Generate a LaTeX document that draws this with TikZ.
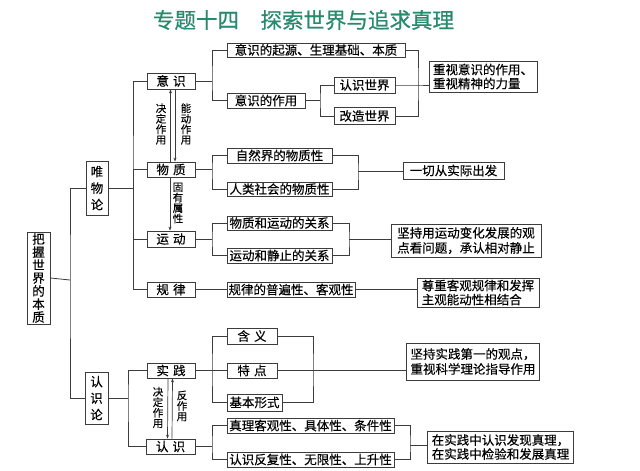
\documentclass[tikz,border=0pt]{standalone}
\usepackage{fontspec}
\newfontfamily\cjk[FakeBold=0.35]{Noto Sans CJK SC}
\newfontfamily\cjktitle[FakeBold=0.6]{Noto Sans CJK SC}
\usetikzlibrary{arrows.meta}
\definecolor{titlegreen}{RGB}{38,138,108}
\definecolor{linegray}{RGB}{60,60,60}
\begin{document}
\begin{tikzpicture}[x=1pt,y=-1pt,
  box/.style={draw=linegray, line width=0.8pt, fill=white, inner sep=0pt,
    font=\cjk\fontsize{12.5}{14}\selectfont, align=center},
  tbox/.style={box, align=left, inner xsep=4pt},
  conn/.style={draw=linegray, line width=0.8pt},
  arr/.style={draw=linegray, line width=0.7pt, -{Stealth[length=4pt,width=3pt]}},
  vlab/.style={font=\cjk\fontsize{10.5}{10.5}\selectfont, inner sep=0pt, align=center}
]
\useasboundingbox (0,0) rectangle (640,471);
\fill[white] (0,0) rectangle (640,471);

% title
\node[font=\cjktitle\fontsize{21.5}{22}\selectfont, text=titlegreen, inner sep=0pt] (title) at (303.5,20) {专题十四　探索世界与追求真理};

% level 0/1
\node[box, minimum width=23, minimum height=92, font=\cjk\fontsize{12.5}{13}\selectfont] (root) at (38.5,278) {把\\握\\世\\界\\的\\本\\质};
\node[box, minimum width=22, minimum height=54, font=\cjk\fontsize{12.5}{16.5}\selectfont] (wwl) at (97,188) {唯\\物\\论};
\node[box, minimum width=23, minimum height=52, font=\cjk\fontsize{12.5}{16.5}\selectfont] (rsl) at (96.5,398) {认\\识\\论};

% level 2
\node[box, minimum width=48, minimum height=16] (yishi) at (171,81) {意\,\,识};
\node[box, minimum width=48, minimum height=15] (wuzhi) at (171,169.5) {物\,\,质};
\node[box, minimum width=48, minimum height=16] (yundong) at (171,239) {运\,\,动};
\node[box, minimum width=48, minimum height=15] (guilv) at (171,289.5) {规\,\,律};
\node[box, minimum width=48, minimum height=15] (shijian) at (171,370.5) {实\,\,践};
\node[box, minimum width=49, minimum height=15] (renshi) at (170.5,446.5) {认\,\,识};

% level 3
\node[box, minimum width=178, minimum height=14] (a1) at (316,50) {意识的起源、生理基础、本质};
\node[box, minimum width=78, minimum height=15] (a2) at (266,100.5) {意识的作用};
\node[box, minimum width=61, minimum height=16] (a3) at (364.5,85) {认识世界};
\node[box, minimum width=61, minimum height=17] (a4) at (364.5,116) {改造世界};
\node[box, minimum width=105, minimum height=15] (b1) at (279.5,155.5) {自然界的物质性};
\node[box, minimum width=105, minimum height=14] (b2) at (279.5,189) {人类社会的物质性};
\node[box, minimum width=105, minimum height=14] (c1) at (279.5,223) {物质和运动的关系};
\node[box, minimum width=105, minimum height=15] (c2) at (279.5,255.5) {运动和静止的关系};
\node[box, minimum width=128, minimum height=15] (d1) at (291,289.5) {规律的普遍性、客观性};
\node[box, minimum width=50, minimum height=16] (e1) at (252,336) {含\,\,义};
\node[box, minimum width=50, minimum height=15] (e2) at (252,370.5) {特\,\,点};
\node[box, minimum width=55, minimum height=17] (e3) at (254.5,402.5) {基本形式};
\node[box, minimum width=167, minimum height=15] (f1) at (310.5,425.5) {真理客观性、具体性、条件性};
\node[box, minimum width=167, minimum height=15] (f2) at (310.5,459.5) {认识反复性、无限性、上升性};

% results
\node[tbox, minimum width=102, minimum height=31] (r1) at (483,76.5) {重视意识的作用、\\重视精神的力量};
\node[box, minimum width=101, minimum height=17] (r2) at (453.5,170.5) {一切从实际出发};
\node[tbox, minimum width=150, minimum height=33, font=\cjk\fontsize{12.5}{15}\selectfont] (r3) at (466,240.5) {坚持用运动变化发展的观\\点看问题，承认相对静止};
\node[tbox, minimum width=122, minimum height=29] (r4) at (478,292.5) {尊重客观规律和发挥\\主观能动性相结合};
\node[tbox, minimum width=132, minimum height=37, font=\cjk\fontsize{12.5}{15}\selectfont] (r5) at (473,361.5) {坚持实践第一的观点，\\重视科学理论指导作用};
\node[tbox, minimum width=145, minimum height=32] (r6) at (500.5,447) {在实践中认识发现真理，\\在实践中检验和发展真理};

% junctions
\coordinate (j0) at (70,280);
\coordinate (j1) at (133,188);
\coordinate (j2) at (128,398);
\coordinate (k1) at (212,81);
\coordinate (k2) at (320,100.5);
\coordinate (k3) at (212,169.5);
\coordinate (k4) at (212,239);
\coordinate (k5) at (212,370.5);
\coordinate (k6) at (212,446.5);
\coordinate (m1) at (418,85);
\coordinate (m2) at (358,171);
\coordinate (m3) at (349,239.5);
\coordinate (m4) at (313,370.5);
\coordinate (m5) at (410,445);

% connectors
\draw[conn] (root.east) -- (j0);
\draw[conn] (wwl.west) -| (j0) |- (rsl.west);
\draw[conn] (wwl.east) -- (j1);
\draw[conn] (yishi.west) -| (j1) |- (guilv.west);
\draw[conn] (j1) |- (wuzhi.west);
\draw[conn] (j1) |- (yundong.west);
\draw[conn] (rsl.east) -- (j2);
\draw[conn] (shijian.west) -| (j2) |- (renshi.west);

\draw[conn] (yishi.east) -- (k1);
\draw[conn] (a1.west) -| (k1) |- (a2.west);
\draw[conn] (a2.east) -- (k2);
\draw[conn] (a3.west) -| (k2) |- (a4.west);
\draw[conn] (a1.east) -| (m1) |- (a4.east);
\draw[conn] (a3.east) -- (m1) -- (r1.west |- m1);

\draw[conn] (wuzhi.east) -- (k3);
\draw[conn] (b1.west) -| (k3) |- (b2.west);
\draw[conn] (b1.east) -| (m2) |- (b2.east);
\draw[conn] (m2) -- (r2.west |- m2);

\draw[conn] (yundong.east) -- (k4);
\draw[conn] (c1.west) -| (k4) |- (c2.west);
\draw[conn] (c1.east) -| (m3) |- (c2.east);
\draw[conn] (m3) -- (r3.west |- m3);

\draw[conn] (guilv.east) -- (d1.west);
\draw[conn] (d1.east) -- (r4.west |- d1.east);

\draw[conn] (shijian.east) -- (k5);
\draw[conn] (e1.west) -| (k5) |- (e3.west);
\draw[conn] (k5) -- (e2.west);
\draw[conn] (e1.east) -| (m4) |- (e3.east);
\draw[conn] (e2.east) -- (m4) -- (r5.west |- m4);

\draw[conn] (renshi.east) -- (k6);
\draw[conn] (f1.west) -| (k6) |- (f2.west);
\draw[conn] (f1.east) -| (m5) |- (f2.east);
\draw[conn] (m5) -- (r6.west |- m5);

% arrows
\draw[arr] ([xshift=-0.5]wuzhi.north) -- ([xshift=-0.5]yishi.south);
\draw[arr] ([xshift=4]yishi.south) -- ([xshift=4]wuzhi.north);
\draw[arr] ([xshift=-1]wuzhi.south) -- ([xshift=-1]yundong.north);
\draw[arr] ([xshift=-3]shijian.south) -- ([xshift=-3]renshi.north);
\draw[arr] ([xshift=1.5]renshi.north) -- ([xshift=1.5]shijian.south);

% arrow labels
\node[vlab] (l1) at (161,124) {决\\定\\作\\用};
\node[vlab] (l2) at (186,124) {能\\动\\作\\用};
\node[vlab] (l3) at (178,203) {固\\有\\属\\性};
\node[vlab] (l4) at (158,407.5) {决\\定\\作\\用};
\node[vlab] (l5) at (182,406) {反\\作\\用};
\end{tikzpicture}
\end{document}
